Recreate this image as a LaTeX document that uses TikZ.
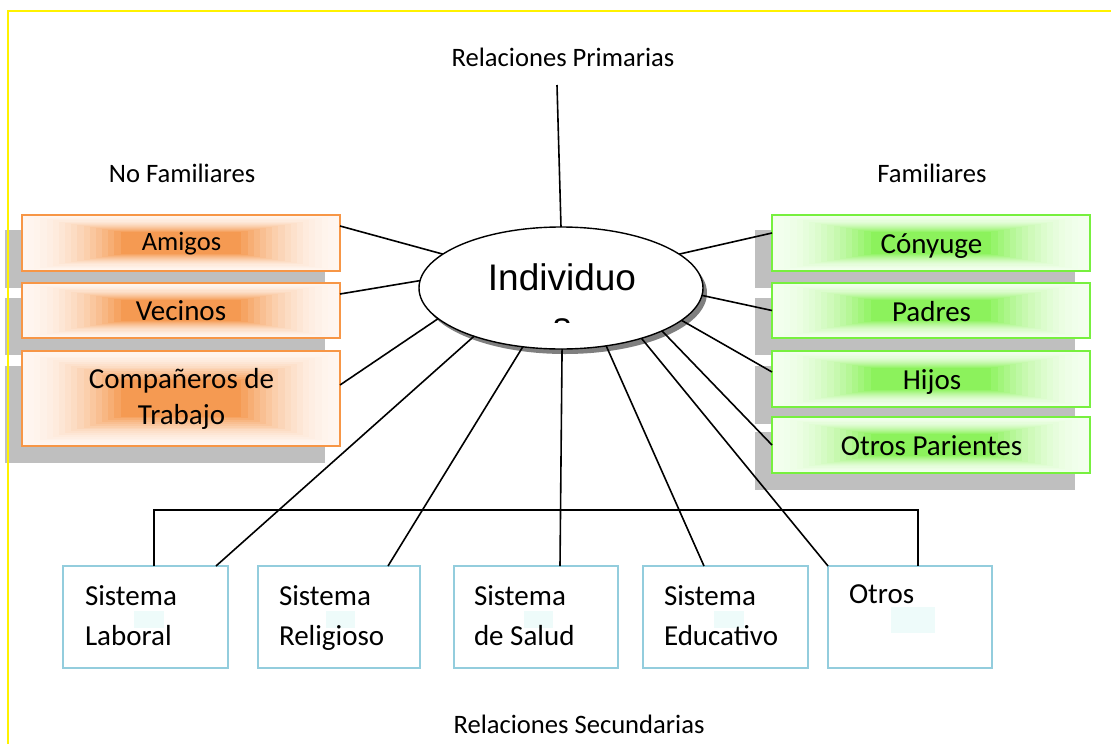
\documentclass[tikz,border=0pt]{standalone}
\usepackage{fontspec}
\setmainfont{Carlito}
\newfontfamily\arialf{Liberation Sans}
\usetikzlibrary{shapes.geometric,calc}
\definecolor{orB}{HTML}{F79646}
\definecolor{orC}{HTML}{F59A52}
\definecolor{orE}{HTML}{FFF6F0}
\definecolor{grB}{HTML}{77F03E}
\definecolor{grC}{HTML}{8CF25C}
\definecolor{grE}{HTML}{F3FFEE}
\definecolor{shad}{HTML}{BFBFBF}
\definecolor{blB}{HTML}{93CDDD}
\definecolor{cyanpale}{HTML}{EEFBFA}
\definecolor{ellsh}{HTML}{7F7F7F}
\newcommand\gradfill[6]{%
  \foreach \i in {0,...,16}{%
    \pgfmathsetmacro\sc{1-0.62*\i/16}%
    \pgfmathsetmacro\pc{100*(\i/16)^1.8}%
    \fill[#6!\pc!#5] ({#1-#3*\sc/2},{#2-#4*\sc/2}) rectangle ({#1+#3*\sc/2},{#2+#4*\sc/2});
  }}
\newcommand\shadowbox[4]{% cx cy w h
  \fill[shad] ({#1-#3/2-17},{#2-#4/2+15}) rectangle ({#1+#3/2-15},{#2+#4/2+17});}
\tikzset{
  every node/.style={inner sep=0pt, outer sep=0pt},
  lbl/.style={font=\fontsize{26.6}{32}\selectfont},
  btxt/.style={font=\fontsize{29}{36}\selectfont, anchor=base, align=center},
  obox/.style={draw=orB, line width=2pt, rectangle},
  gbox/.style={draw=grB, line width=2pt, rectangle},
  sbox/.style={draw=blB, line width=2pt, rectangle, minimum width=164pt, minimum height=102pt},
  stxt/.style={font=\fontsize{29}{40}\selectfont, anchor=base west, align=left},
  conn/.style={draw=black, line width=1.6pt},
}
\begin{document}
\begin{tikzpicture}[x=1pt,y=-1pt]
\useasboundingbox (0,0) rectangle (1111,744);
\fill[white] (0,0) rectangle (1111,744);

% shadows
\shadowbox{181}{243}{318}{56}
\shadowbox{181}{310.5}{318}{55}
\shadowbox{181}{398.5}{318}{95}
\shadowbox{931}{243}{318}{56}
\shadowbox{931}{310.5}{318}{55}
\shadowbox{931}{379}{318}{56}
\shadowbox{931}{445}{318}{56}

% orange boxes
\gradfill{181}{243}{318}{56}{orE}{orC}
\gradfill{181}{310.5}{318}{55}{orE}{orC}
\gradfill{181}{398.5}{318}{95}{orE}{orC}
\node[obox, minimum width=318pt, minimum height=56pt] (amigos) at (181,243) {};
\node[obox, minimum width=318pt, minimum height=55pt] (vecinos) at (181,310.5) {};
\node[obox, minimum width=318pt, minimum height=95pt] (comp) at (181,398.5) {};
\node[btxt, font=\fontsize{26.5}{32}\selectfont] at (181.5,250.5) {Amigos};
\node[btxt] at (181,320.5) {Vecinos};
\node[btxt] at (181.5,424) {Compañeros de\\Trabajo};

% green boxes
\gradfill{931}{243}{318}{56}{grE}{grC}
\gradfill{931}{310.5}{318}{55}{grE}{grC}
\gradfill{931}{379}{318}{56}{grE}{grC}
\gradfill{931}{445}{318}{56}{grE}{grC}
\node[gbox, minimum width=318pt, minimum height=56pt] (cony) at (931,243) {};
\node[gbox, minimum width=318pt, minimum height=55pt] (padres) at (931,310.5) {};
\node[gbox, minimum width=318pt, minimum height=56pt] (hijos) at (931,379) {};
\node[gbox, minimum width=318pt, minimum height=56pt] (otrp) at (931,445) {};
\node[btxt] at (931.5,253) {Cónyuge};
\node[btxt] at (931.5,321.5) {Padres};
\node[btxt] at (932,389) {Hijos};
\node[btxt] at (931.5,455) {Otros Parientes};

% labels
\node[lbl] (relp) at (563,57) {Relaciones Primarias};
\node[lbl] (nofam) at (182,173) {No Familiares};
\node[lbl] (fam) at (932,173) {Familiares};
\node[lbl] (rels) at (579,724) {Relaciones Secundarias};

% bottom boxes
\node[sbox, minimum width=165pt] (lab) at (145.5,617) {};
\node[sbox, minimum width=162pt] (rel) at (339,617) {};
\node[sbox] (sal) at (536,617) {};
\node[sbox, minimum width=165pt] (edu) at (725.5,617) {};
\node[sbox] (otr) at (910,617) {};
\fill[cyanpale] (134,611) rectangle (164,628);
\fill[cyanpale] (326,611) rectangle (355,628);
\fill[cyanpale] (524,611) rectangle (553,628);
\fill[cyanpale] (714,611) rectangle (744,628);
\fill[cyanpale] (891,607) rectangle (935,633);
\node[stxt] at (85,645) {Sistema\\Laboral};
\node[stxt] at (279,645) {Sistema\\Religioso};
\node[stxt] at (474,645) {Sistema\\de Salud};
\node[stxt] at (664,645) {Sistema\\Educativo};
\node[stxt] at (849,603) {Otros};

% bracket
\coordinate (bl) at ($(lab.north west)+(91,0)$);
\coordinate (br) at ($(otr.north west)+(90,0)$);
\draw[conn] (bl) -- ++(0,-56) -| (br);

% ellipse
\node[ellipse, fill=ellsh, minimum width=284pt, minimum height=122pt] at (565,293) {};
\node[ellipse, draw, fill=white, line width=1.4pt, minimum width=284pt, minimum height=122pt] (ind) at (561,288) {};
\node[anchor=base, font=\arialf\fontsize{37}{43}\selectfont] at (562,290) {Individuo};
\begin{scope}
\clip (480,300) rectangle (640,322);
\node[anchor=base, font=\arialf\fontsize{37}{43}\selectfont] at (562,338) {s};
\end{scope}

% connectors
\coordinate (topc) at (557,85);
\draw[conn] (topc) -- (ind.90);
\draw[conn] ($(amigos.north east)+(0,11)$) -- (ind.164);
\draw[conn] ($(vecinos.north east)+(0,11)$) -- (ind.177);
\draw[conn] ($(comp.north east)+(0,34)$) -- (ind.194);
\draw[conn] ($(lab.north east)+(-12,0)$) -- (ind.209);
\draw[conn] ($(rel.north east)+(-32,0)$) -- (ind.237);
\draw[conn] ($(sal.north west)+(106,0)$) -- (ind.271);
\draw[conn] ($(edu.north west)+(61,0)$) -- (ind.308);
\draw[conn] (otr.north west) -- (ind.328);
\draw[conn] ($(cony.north west)+(0,18)$) -- (ind.16);
\draw[conn] (padres.west) -- (ind.357);
\draw[conn] ($(hijos.north west)+(0,21)$) -- (ind.345);
\draw[conn] (otrp.west) -- (ind.337);

% yellow frame
\draw[yellow, line width=2pt] (8,744) -- (8,11) -- (1111,11);
\end{tikzpicture}
\end{document}
